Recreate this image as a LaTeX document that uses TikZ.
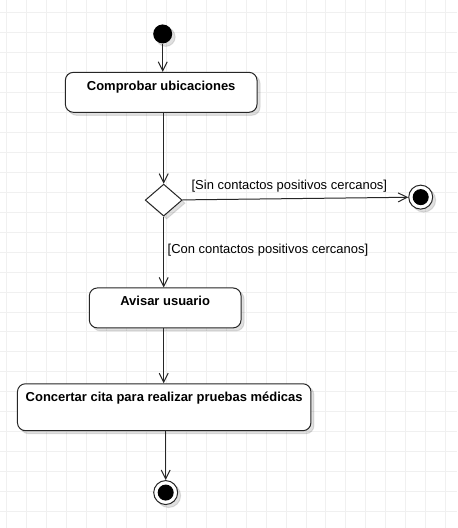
\documentclass[tikz,border=0pt]{standalone}
\usepackage{fontspec}
\setmainfont{Liberation Sans}
\usetikzlibrary{arrows.meta, shapes.geometric, shadows}

\begin{document}
\begin{tikzpicture}[
						x=1pt, y=-1pt,
						line width=1pt,
						every path/.style = {draw=black!85},
						->/.style = {-{Straight Barb[length=9pt, width=9pt]}},
						shade/.style = {drop shadow={shadow xshift=3pt, shadow yshift=-3pt, opacity=0.12, fill=black}},
						start/.style = {circle, fill=black, minimum size=19pt, inner sep=0pt, shade},
						final/.style = {draw, circle, fill=white, minimum size=24pt, inner sep=0pt, shade,
						                path picture={\fill[black] (path picture bounding box.center) circle (7.5pt);}},
						act/.style = {draw, fill=white, rounded corners=8pt, inner ysep=9.6pt, text height=8.4pt,
						              text depth=12.4pt, font=\bfseries\fontsize{13}{15}\selectfont, shade},
						choice/.style = {draw, fill=white, diamond, inner sep=0pt, minimum width=37pt, minimum height=32pt, shade},
						guard/.style = {font=\fontsize{13}{15}\selectfont, inner sep=0pt, anchor=west},
					]

% fondo y rejilla
\useasboundingbox (0,0) rectangle (457,528);
\fill[white] (0,0) rectangle (457,528);
\begin{scope}[shift={(6,12)}]
\draw[black!6, line width=0.8pt, step=20pt] (-6,-12) grid (451,516);
\end{scope}

\node[start] (1) at (162.5,33.5) {};
\node[act, minimum width=192pt] (2) at (161,92) {Comprobar ubicaciones};
\node[choice] (4) at (163.5,200) {};
\node[final] (5) at (421,197) {};
\node[act, minimum width=152pt] (6) at (165,308) {Avisar usuario};
\node[act, minimum width=294pt, text depth=19.4pt] (7) at (164,407.5) {Concertar cita para realizar pruebas médicas};
\node[final] (8) at (165.5,493) {};

\node[guard] (sin) at (191,186) {[Sin contactos positivos cercanos]};
\node[guard] (con) at (167,250) {[Con contactos positivos cercanos]};

\draw[->] (1) -- (1 |- 2.north);
\draw[->] (4 |- 2.south) -- (4);
\draw[->] (4) -- (5);
\draw[->] (4) -- (4 |- 6.north);
\draw[->] (4 |- 6.south) -- (4 |- 7.north);
\draw[->] (8 |- 7.south) -- (8);

\end{tikzpicture}
\end{document}
